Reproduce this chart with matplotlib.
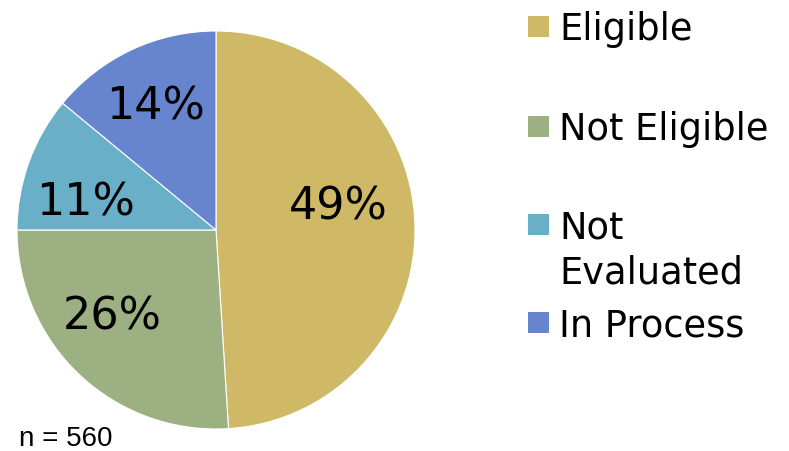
import matplotlib
matplotlib.use('Agg')
import matplotlib.pyplot as plt
from matplotlib.patches import Rectangle

# data
categories = ['Eligible', 'Not Eligible', 'Not\nEvaluated', 'In Process']
shares = [49, 26, 11, 14]
colors = ['#CFB966', '#9DB082', '#6AAFC8', '#6785CF']
n_total = 560

# label positions inside the pie (data coords, radius = 1)
label_xy = [(0.613, 0.116), (-0.523, -0.437), (-0.653, 0.136), (-0.302, 0.618)]

W, H = 789, 451
fig = plt.figure(figsize=(W / 100, H / 100), dpi=100)

cx, cy, r = 216, 230, 199
ax = fig.add_axes([(cx - r) / W, (H - cy - r) / H, 2 * r / W, 2 * r / H])
ax.pie(shares, colors=colors, startangle=90, counterclock=False, radius=1,
       wedgeprops=dict(linewidth=0.8, edgecolor='white'))
ax.set_xlim(-1, 1)
ax.set_ylim(-1, 1)
ax.set_aspect('equal')
ax.axis('off')

for (x, y), v in zip(label_xy, shares):
    ax.text(x, y, '{}%'.format(v), ha='center', va='center', fontsize=32,
            family='DejaVu Sans', color='black')

# legend drawn by hand to keep the uneven spacing
leg_y = [26, 126, 224, 322]
line_gap = 45
for yy, lab, c in zip(leg_y, categories, colors):
    fig.patches.append(Rectangle((528 / W, (H - yy - 10.5) / H), 21 / W, 21 / H,
                                 transform=fig.transFigure, facecolor=c,
                                 edgecolor='none'))
    for i, part in enumerate(lab.split('\n')):
        fig.text(559 / W, (H - yy - i * line_gap) / H, part, ha='left',
                 va='center_baseline', fontsize=26.5, family='DejaVu Sans')

fig.text(19 / W, (H - 446) / H, 'n = {}'.format(n_total), ha='left',
         va='baseline', fontsize=20, family='Liberation Sans')

fig.savefig('out.png', dpi=100)
